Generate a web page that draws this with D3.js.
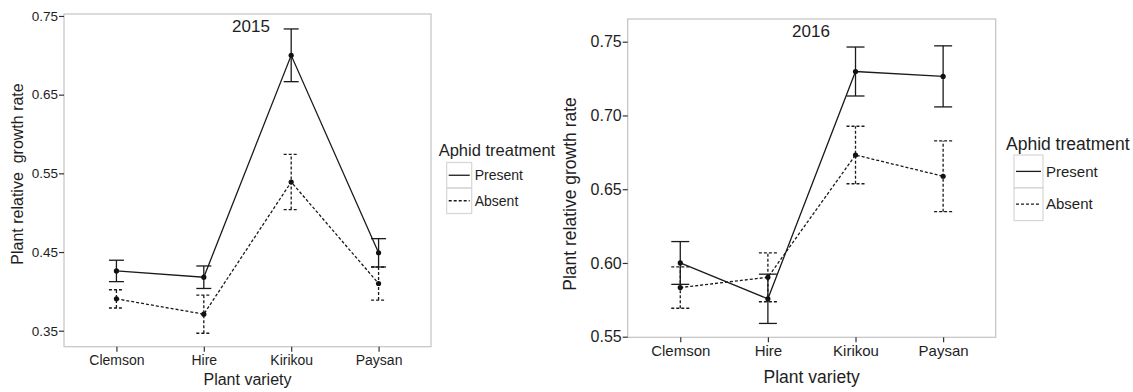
<!DOCTYPE html>
<html>
<head>
<meta charset="utf-8">
<script src="https://cdn.jsdelivr.net/npm/d3@7"></script>
<style>
  body { margin: 0; background: #fff; }
  svg text { font-family: "Liberation Sans", Arial, sans-serif; fill: #1e1e1e; white-space: pre; }
</style>
</head>
<body>
<svg id="chart" width="1133" height="392"></svg>
<script>
var varieties = ["Clemson", "Hire", "Kirikou", "Paysan"];
var treatments = ["Present", "Absent"];

// 2015 means and standard errors
var present2015 = [0.426, 0.418, 0.700, 0.449];
var present2015Se = [0.0136, 0.0143, 0.0335, 0.018];
var absent2015 = [0.3905, 0.371, 0.539, 0.410];
var absent2015Se = [0.0116, 0.0242, 0.035, 0.021];

// 2016 means and standard errors
var present2016 = [0.600, 0.5757, 0.7298, 0.7265];
var present2016Se = [0.0145, 0.0167, 0.0166, 0.0207];
var absent2016 = [0.5833, 0.5903, 0.6732, 0.6588];
var absent2016Se = [0.014, 0.0166, 0.0195, 0.024];

var ticks2015 = [0.35, 0.45, 0.55, 0.65, 0.75];
var ticks2016 = [0.55, 0.60, 0.65, 0.70, 0.75];

var svg = d3.select("#chart");

function drawPanel(p) {
    var g = svg.append("g");

    var x = d3.scalePoint()
        .domain(varieties)
        .range([p.left, p.right])
        .padding(0.6);

    var y = d3.scaleLinear()
        .domain(p.yDomain)
        .range([p.bottom, p.top]);

    // panel border
    g.append("rect")
        .attr("x", p.left)
        .attr("y", p.top)
        .attr("width", p.right - p.left)
        .attr("height", p.bottom - p.top)
        .attr("fill", "none")
        .attr("stroke", "#c4c4c4")
        .attr("stroke-width", 1.2);

    var yAxis = g.append("g")
        .attr("transform", "translate(" + p.left + ",0)")
        .call(d3.axisLeft(y).tickValues(p.ticks).tickFormat(d3.format(".2f"))
            .tickSize(5).tickPadding(1));
    yAxis.select(".domain").remove();
    yAxis.selectAll("line").attr("stroke", "#333").attr("stroke-width", 1.2);
    yAxis.selectAll("text").style("font-size", p.yTickSize + "px").attr("fill", "#222");

    var xAxis = g.append("g")
        .attr("transform", "translate(0," + p.bottom + ")")
        .call(d3.axisBottom(x).tickSize(5).tickPadding(3));
    xAxis.select(".domain").remove();
    xAxis.selectAll("line").attr("stroke", "#333").attr("stroke-width", 1.2);
    xAxis.selectAll("text").style("font-size", p.xTickSize + "px").attr("fill", "#222");

    // axis titles and year
    g.append("text")
        .attr("x", (p.left + p.right) / 2)
        .attr("y", p.xTitleY)
        .attr("text-anchor", "middle")
        .style("font-size", p.titleSize + "px")
        .text("Plant variety");

    g.append("text")
        .attr("transform", "translate(" + p.yTitleX + "," + p.yTitleY + ") rotate(-90)")
        .attr("text-anchor", "middle")
        .style("font-size", p.titleSize + "px")
        .text(p.yTitle);

    g.append("text")
        .attr("x", p.yearX)
        .attr("y", p.yearY)
        .attr("text-anchor", "middle")
        .style("font-size", "17px")
        .text(p.year);

    var series = [
        { name: "Present", mean: p.present, se: p.presentSe, dash: null },
        { name: "Absent", mean: p.absent, se: p.absentSe, dash: "3,2" }
    ];

    var line = d3.line()
        .x(function(d, i) { return x(varieties[i]); })
        .y(function(d) { return y(d); });

    series.forEach(function(s) {
        g.append("path")
            .datum(s.mean)
            .attr("d", line)
            .attr("fill", "none")
            .attr("stroke", "#1a1a1a")
            .attr("stroke-width", 1.3)
            .attr("stroke-dasharray", s.dash);

        var bars = g.selectAll(null)
            .data(s.mean)
            .enter()
            .append("g")
            .attr("fill", "none")
            .attr("stroke", "#1a1a1a")
            .attr("stroke-width", 1.3)
            .attr("stroke-dasharray", s.dash);

        bars.append("line")
            .attr("x1", function(d, i) { return x(varieties[i]); })
            .attr("x2", function(d, i) { return x(varieties[i]); })
            .attr("y1", function(d, i) { return y(d - s.se[i]); })
            .attr("y2", function(d, i) { return y(d + s.se[i]); });

        [1, -1].forEach(function(sign) {
            bars.append("line")
                .attr("x1", function(d, i) { return x(varieties[i]) - p.cap; })
                .attr("x2", function(d, i) { return x(varieties[i]) + p.cap; })
                .attr("y1", function(d, i) { return y(d + sign * s.se[i]); })
                .attr("y2", function(d, i) { return y(d + sign * s.se[i]); });
        });

        g.selectAll(null)
            .data(s.mean)
            .enter()
            .append("circle")
            .attr("cx", function(d, i) { return x(varieties[i]); })
            .attr("cy", function(d) { return y(d); })
            .attr("r", 2.6)
            .attr("fill", "#111");
    });

    // legend
    g.append("text")
        .attr("x", p.legX - 8)
        .attr("y", p.legTitleY)
        .style("font-size", p.legTitleSize + "px")
        .text("Aphid treatment");

    series.forEach(function(s, i) {
        var top = p.legTop + i * p.keyH;
        g.append("rect")
            .attr("x", p.legX)
            .attr("y", top)
            .attr("width", p.keyW)
            .attr("height", p.keyH)
            .attr("fill", "none")
            .attr("stroke", "#d6d6d6")
            .attr("stroke-width", 1.2);
        g.append("line")
            .attr("x1", p.legX + 2)
            .attr("x2", p.legX + p.keyW - 2)
            .attr("y1", top + p.keyH / 2)
            .attr("y2", top + p.keyH / 2)
            .attr("stroke", "#1a1a1a")
            .attr("stroke-width", 1.3)
            .attr("stroke-dasharray", s.dash);
        g.append("text")
            .attr("x", p.legX + p.keyW + 3)
            .attr("y", top + p.keyH / 2)
            .attr("dy", "0.35em")
            .style("font-size", p.keySize + "px")
            .text(treatments[i]);
    });
}

drawPanel({
    left: 64, right: 431, top: 14, bottom: 346.7,
    yDomain: [0.3297, 0.7525], ticks: ticks2015,
    present: present2015, presentSe: present2015Se,
    absent: absent2015, absentSe: absent2015Se,
    yTickSize: 13.5, xTickSize: 14, titleSize: 16,
    xTitleY: 385, yTitleX: 23, yTitleY: 174,
    yTitle: "Plant relative  growth rate",
    year: "2015", yearX: 251, yearY: 32,
    cap: 7.5,
    legX: 446.7, legTitleY: 156, legTitleSize: 16.5, legTop: 162.5,
    keyW: 25, keyH: 25.5, keySize: 14
});

drawPanel({
    left: 627.7, right: 995.7, top: 19, bottom: 337.3,
    yDomain: [0.5496, 0.7654], ticks: ticks2016,
    present: present2016, presentSe: present2016Se,
    absent: absent2016, absentSe: absent2016Se,
    yTickSize: 16, xTickSize: 15, titleSize: 17.5,
    xTitleY: 383, yTitleX: 576, yTitleY: 194,
    yTitle: "Plant relative growth rate",
    year: "2016", yearX: 811, yearY: 37,
    cap: 9,
    legX: 1014, legTitleY: 150, legTitleSize: 17.5, legTop: 155,
    keyW: 29, keyH: 32.8, keySize: 15
});
</script>
</body>
</html>
